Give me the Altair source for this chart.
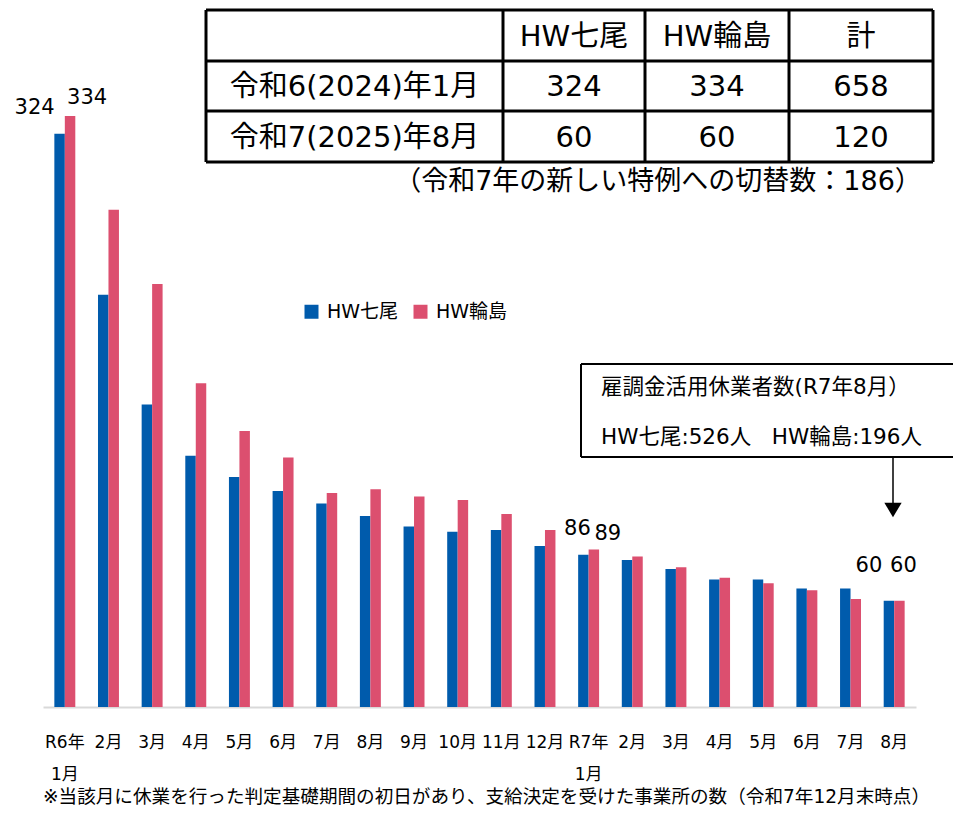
import altair as alt
import pandas as pd

# ---------------- data ----------------
month_keys = ["2024-01", "2024-02", "2024-03", "2024-04", "2024-05", "2024-06",
              "2024-07", "2024-08", "2024-09", "2024-10", "2024-11", "2024-12",
              "2025-01", "2025-02", "2025-03", "2025-04", "2025-05", "2025-06",
              "2025-07", "2025-08"]
month_labels = [["R6年", "1月"], "2月", "3月", "4月", "5月", "6月", "7月", "8月", "9月",
                "10月", "11月", "12月", ["R7年", "1月"], "2月", "3月", "4月", "5月",
                "6月", "7月", "8月"]
series_names = ["HW七尾", "HW輪島"]
nanao = [324, 233, 171, 142, 130, 122, 115, 108, 102, 99, 100, 91,
         86, 83, 78, 72, 72, 67, 67, 60]
wajima = [334, 281, 239, 183, 156, 141, 121, 123, 119, 117, 109, 100,
          89, 85, 79, 73, 70, 66, 61, 60]
series_colors = ["#005BAC", "#DC4F6F"]

table_cols = ["HW七尾", "HW輪島", "計"]
table_rows = ["令和6(2024)年1月", "令和7(2025)年8月"]
subtitle = "（令和7年の新しい特例への切替数：186）"
callout_lines = ["雇調金活用休業者数(R7年8月）", "HW七尾:526人\u00a0\u00a0\u00a0HW輪島:196人"]
footnote = "※当該月に休業を行った判定基礎期間の初日があり、支給決定を受けた事業所の数（令和7年12月末時点）"

FONT = "DejaVu Sans, Noto Sans CJK JP"

rows = []
for i, k in enumerate(month_keys):
    rows.append({"month": k, "series": series_names[0], "value": nanao[i]})
    rows.append({"month": k, "series": series_names[1], "value": wajima[i]})
df = pd.DataFrame(rows)

label_js = "{" + ", ".join(
    f"'{k}': " + (("['" + "','".join(l) + "']") if isinstance(l, list) else f"'{l}'")
    for k, l in zip(month_keys, month_labels)) + "}"

x_enc = alt.X("month:N", sort=month_keys, title=None,
              scale=alt.Scale(paddingInner=0.52, paddingOuter=0.26),
              axis=alt.Axis(labelExpr=label_js + "[datum.value]", labelAngle=0,
                            ticks=False, domainColor="#D9D9D9", domainWidth=2,
                            labelFont=FONT, labelFontSize=17, labelColor="#000",
                            labelLineHeight=32, labelBaseline="alphabetic",
                            labelPadding=40))
xo_enc = alt.XOffset("series:N", sort=series_names,
                     scale=alt.Scale(paddingInner=0, paddingOuter=0))
y_enc = alt.Y("value:Q", scale=alt.Scale(domain=[0, 395], nice=False), axis=None)

bars = alt.Chart(df).mark_bar().encode(
    x=x_enc, xOffset=xo_enc, y=y_enc,
    color=alt.Color("series:N",
                    scale=alt.Scale(domain=series_names, range=series_colors),
                    legend=alt.Legend(orient="none", legendX=259, legendY=294,
                                      direction="horizontal", title=None,
                                      symbolType="square", symbolSize=196,
                                      symbolStrokeWidth=0, labelFont=FONT,
                                      labelFontSize=19, labelColor="#000",
                                      labelOffset=6, columnPadding=12, padding=0)),
)

# value labels (month index, series index, dx, dy)
label_specs = [(0, 0, -25, -26), (0, 1, 17, -18), (12, 0, -6, -26),
               (12, 1, 14, -16), (19, 0, -20, -35), (19, 1, 4, -35)]
value_layers = []
for mi, si, dx, dy in label_specs:
    key, s = month_keys[mi], series_names[si]
    value_layers.append(
        alt.Chart(df).transform_filter(
            (alt.datum.month == key) & (alt.datum.series == s)
        ).mark_text(font=FONT, fontSize=21, color="#000", dx=dx, dy=dy,
                    baseline="middle").encode(
            x=x_enc, xOffset=xo_enc, y=y_enc, text="value:Q"))


def txt(t, px, py, size, align="center"):
    return alt.Chart(pd.DataFrame({"t": [t]})).mark_text(
        font=FONT, fontSize=size, align=align, baseline="middle", color="#000"
    ).encode(x=alt.value(px), y=alt.value(py), text="t:N")


def rule(x1, x2, y1, y2, w=3):
    return alt.Chart(pd.DataFrame({"a": [0]})).mark_rule(
        color="#000", strokeWidth=w
    ).encode(x=alt.value(x1), x2=alt.value(x2), y=alt.value(y1), y2=alt.value(y2))


# table layout (plot coordinates)
OX, OY = 43, 8
col_edges = [206 - OX, 503 - OX, 645 - OX, 789 - OX, 933 - OX]
row_edges = [10 - OY, 61 - OY, 111 - OY, 162 - OY]
deco = []
for xe in col_edges:
    deco.append(rule(xe, xe, row_edges[0], row_edges[-1]))
for ye in row_edges:
    deco.append(rule(col_edges[0], col_edges[-1], ye, ye))

cx = [(col_edges[i] + col_edges[i + 1]) / 2 for i in range(4)]
cy = [(row_edges[i] + row_edges[i + 1]) / 2 + 1 for i in range(3)]
for j, c in enumerate(table_cols):
    deco.append(txt(c, cx[j + 1], cy[0], 29))
vals = [[nanao[0], wajima[0], nanao[0] + wajima[0]],
        [nanao[-1], wajima[-1], nanao[-1] + wajima[-1]]]
for i, r in enumerate(table_rows):
    deco.append(txt(r, cx[0], cy[i + 1], 29))
    for j in range(3):
        deco.append(txt(str(vals[i][j]), cx[j + 1], cy[i + 1], 29))

deco.append(txt(subtitle, 658 - OX, 182 - OY, 27))

# callout box
bx0, by0, by1 = 581 - OX, 364 - OY, 457 - OY
deco.append(rule(bx0, 930, by0, by0, 2))
deco.append(rule(bx0, 930, by1, by1, 2))
deco.append(rule(bx0, bx0, by0, by1, 2))
deco.append(txt(callout_lines[0], 601 - OX, 388 - OY, 21.5, "left"))
deco.append(txt(callout_lines[1], 601 - OX, 438 - OY, 21.5, "left"))
ax = 893 - OX
deco.append(rule(ax, ax, by1, 506 - OY, 1.5))
deco.append(alt.Chart(pd.DataFrame({"a": [0]})).mark_point(
    shape="M-1,-0.85L1,-0.85L0,0.85Z", filled=True, color="#000", opacity=1,
    size=300, strokeWidth=0).encode(x=alt.value(ax), y=alt.value(510 - OY)))

deco.append(txt(footnote, 0, 797 - OY, 18.6, "left"))

chart = alt.layer(bars, *value_layers, *deco).properties(
    width=873, height=699,
    autosize=alt.AutoSizeParams(type="none"),
    padding={"left": 35, "top": 0, "right": 37, "bottom": 99},
    background="white",
).configure_view(stroke=None)

chart.save("out.html", embed_options={"renderer": "svg", "actions": False})
